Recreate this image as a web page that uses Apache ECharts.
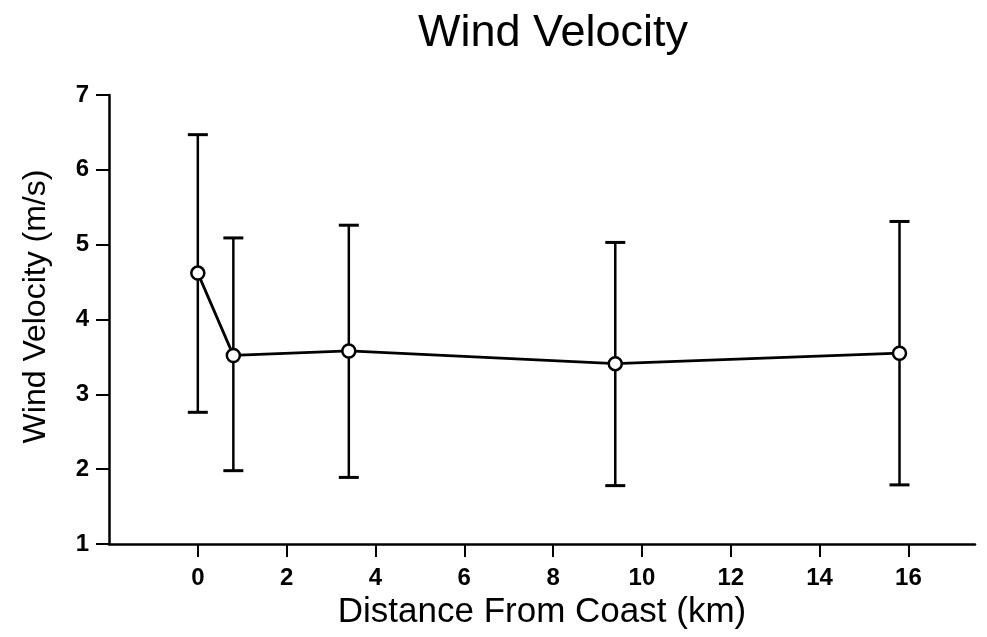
<!DOCTYPE html>
<html>
<head>
<meta charset="utf-8">
<script src="https://cdn.jsdelivr.net/npm/echarts@6/dist/echarts.min.js"></script>
<style>
html,body{margin:0;padding:0;background:#fff;}
#chart{width:987px;height:637px;}
</style>
</head>
<body>
<div id="chart"></div>
<script>
// Data
const distances = [0, 0.8, 3.4, 9.4, 15.8];          // km
const meanVelocity = [4.62, 3.52, 3.58, 3.41, 3.55];  // m/s
const upperBound = [6.47, 5.09, 5.26, 5.03, 5.31];
const lowerBound = [2.76, 1.98, 1.89, 1.78, 1.79];
const xTicks = [0, 2, 4, 6, 8, 10, 12, 14, 16];
const yTicks = [1, 2, 3, 4, 5, 6, 7];

const FONT = '"Liberation Sans", Arial, sans-serif';

const lineData = distances.map((d, i) => [d, meanVelocity[i]]);
const errData = distances.map((d, i) => [d, lowerBound[i], upperBound[i]]);

const chart = echarts.init(document.getElementById('chart'), null, {renderer: 'canvas'});
chart.setOption({
  backgroundColor: '#ffffff',
  animation: false,
  title: {
    text: 'Wind Velocity',
    left: 548,
    textAlign: 'center',
    top: 6,
    textStyle: {fontFamily: FONT, fontSize: 45, fontWeight: 'normal', color: '#000'}
  },
  grid: {left: 109, right: 12, top: 95, bottom: 93, containLabel: false},
  xAxis: {
    type: 'value',
    min: -2,
    max: 17.5,
    interval: 2,
    name: 'Distance From Coast (km)',
    nameLocation: 'middle',
    nameGap: 47,
    nameTextStyle: {fontFamily: FONT, fontSize: 35, color: '#000'},
    axisLine: {show: true, onZero: false, lineStyle: {color: '#000', width: 2.5}},
    axisTick: {show: true, inside: false, length: 13, customValues: xTicks, lineStyle: {color: '#000', width: 2}},
    axisLabel: {customValues: xTicks, margin: 22, fontFamily: FONT, fontSize: 24, fontWeight: 'bold', color: '#000'},
    splitLine: {show: false}
  },
  yAxis: {
    type: 'value',
    min: 1,
    max: 7,
    interval: 1,
    name: 'Wind Velocity (m/s)',
    nameLocation: 'middle',
    nameGap: 57,
    nameTextStyle: {fontFamily: FONT, fontSize: 32, color: '#000', padding: [0, 0, 0, 26]},
    axisLine: {show: true, onZero: false, lineStyle: {color: '#000', width: 2.5}},
    axisTick: {show: true, inside: false, length: 13, customValues: yTicks, lineStyle: {color: '#000', width: 2}},
    axisLabel: {customValues: yTicks, margin: 20, fontFamily: FONT, fontSize: 24, fontWeight: 'bold', color: '#000'},
    splitLine: {show: false}
  },
  series: [
    {
      type: 'custom',
      name: 'error',
      data: errData,
      z: 2,
      renderItem: function (params, api) {
        const x = api.value(0);
        const lo = api.coord([x, api.value(1)]);
        const hi = api.coord([x, api.value(2)]);
        const half = 10;
        const style = {stroke: '#000', lineWidth: 2.5};
        return {
          type: 'group',
          children: [
            {type: 'line', shape: {x1: lo[0], y1: lo[1], x2: hi[0], y2: hi[1]}, style: style},
            {type: 'line', shape: {x1: hi[0] - half, y1: hi[1], x2: hi[0] + half, y2: hi[1]}, style: {stroke: '#000', lineWidth: 3}},
            {type: 'line', shape: {x1: lo[0] - half, y1: lo[1], x2: lo[0] + half, y2: lo[1]}, style: {stroke: '#000', lineWidth: 3}}
          ]
        };
      }
    },
    {
      type: 'line',
      name: 'mean',
      data: lineData,
      z: 3,
      symbol: 'circle',
      symbolSize: 13,
      showSymbol: true,
      lineStyle: {color: '#000', width: 2.8},
      itemStyle: {color: '#fff', borderColor: '#000', borderWidth: 2.5}
    }
  ]
});
</script>
</body>
</html>
